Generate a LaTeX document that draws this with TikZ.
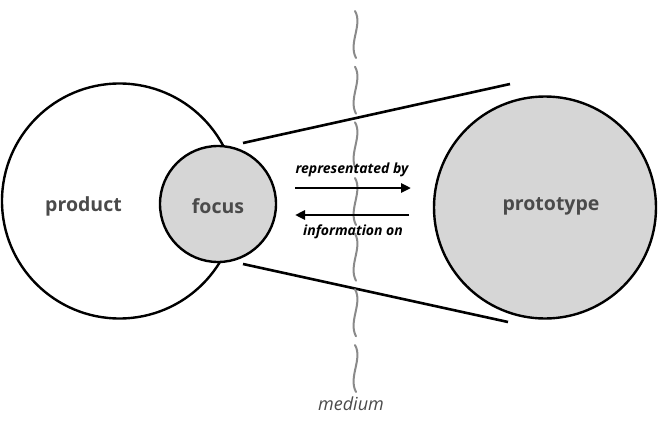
\documentclass[tikz,border=0pt]{standalone}
\usepackage{fontspec}
\setmainfont{Open Sans}
\usetikzlibrary{arrows.meta}
\definecolor{fillgray}{HTML}{D6D6D6}
\definecolor{txtgray}{HTML}{4A4A4A}
\definecolor{wavegray}{HTML}{8A8A8A}
\begin{document}
\begin{tikzpicture}[x=1pt,y=-1pt,
  circ/.style={circle,draw=black,line width=2.4pt,inner sep=0pt},
  biglabel/.style={font=\fontsize{19.5}{23}\selectfont\bfseries,text=txtgray},
  arrlabel/.style={font=\fontsize{14}{17}\selectfont\bfseries\itshape,text=black},
  conn/.style={line width=2.6pt},
  arr/.style={line width=2.6pt,-{Triangle[length=10pt,width=9pt]}}]
\useasboundingbox (0,0) rectangle (658,439);
% circles
\node[circ,minimum size=235pt] (product) at (119.5,201) {};
\node[circ,fill=fillgray,minimum size=116pt] (focus) at (218,204) {};
\node[circ,fill=fillgray,minimum size=222pt] (prototype) at (545,207.5) {};
% labels
\node[biglabel] (productlbl) at (83.5,206) {product};
\node[biglabel] (focuslbl) at (218,206) {focus};
\node[biglabel] (prototypelbl) at (551,206) {prototype};
% connecting lines
\coordinate (a1) at (243,143);
\coordinate (b1) at (510,84);
\coordinate (a2) at (243,264);
\coordinate (b2) at (508,322);
\draw[conn] (a1) -- (b1);
\draw[conn] (a2) -- (b2);
% wavy medium line
\foreach \y in {11,66.7,122.3,178,233.7,289.3,345}{
  \draw[wavegray,line width=2pt,line cap=round]
    (355,\y) .. controls (363,\y+14) and (348,\y+32) .. (356,\y+47);
}
% arrows
\coordinate (r1) at (295,188);
\coordinate (r2) at (411,188);
\coordinate (l1) at (409,215);
\coordinate (l2) at (295,215);
\draw[arr] (r1) -- (r2);
\draw[arr] (l1) -- (l2);
\node[arrlabel] (replbl) at (352,170) {representated by};
\node[arrlabel] (infolbl) at (353,232) {information on};
\node[font=\fontsize{18}{21}\selectfont\itshape,text=txtgray] (medium) at (351,404) {medium};
\end{tikzpicture}
\end{document}
